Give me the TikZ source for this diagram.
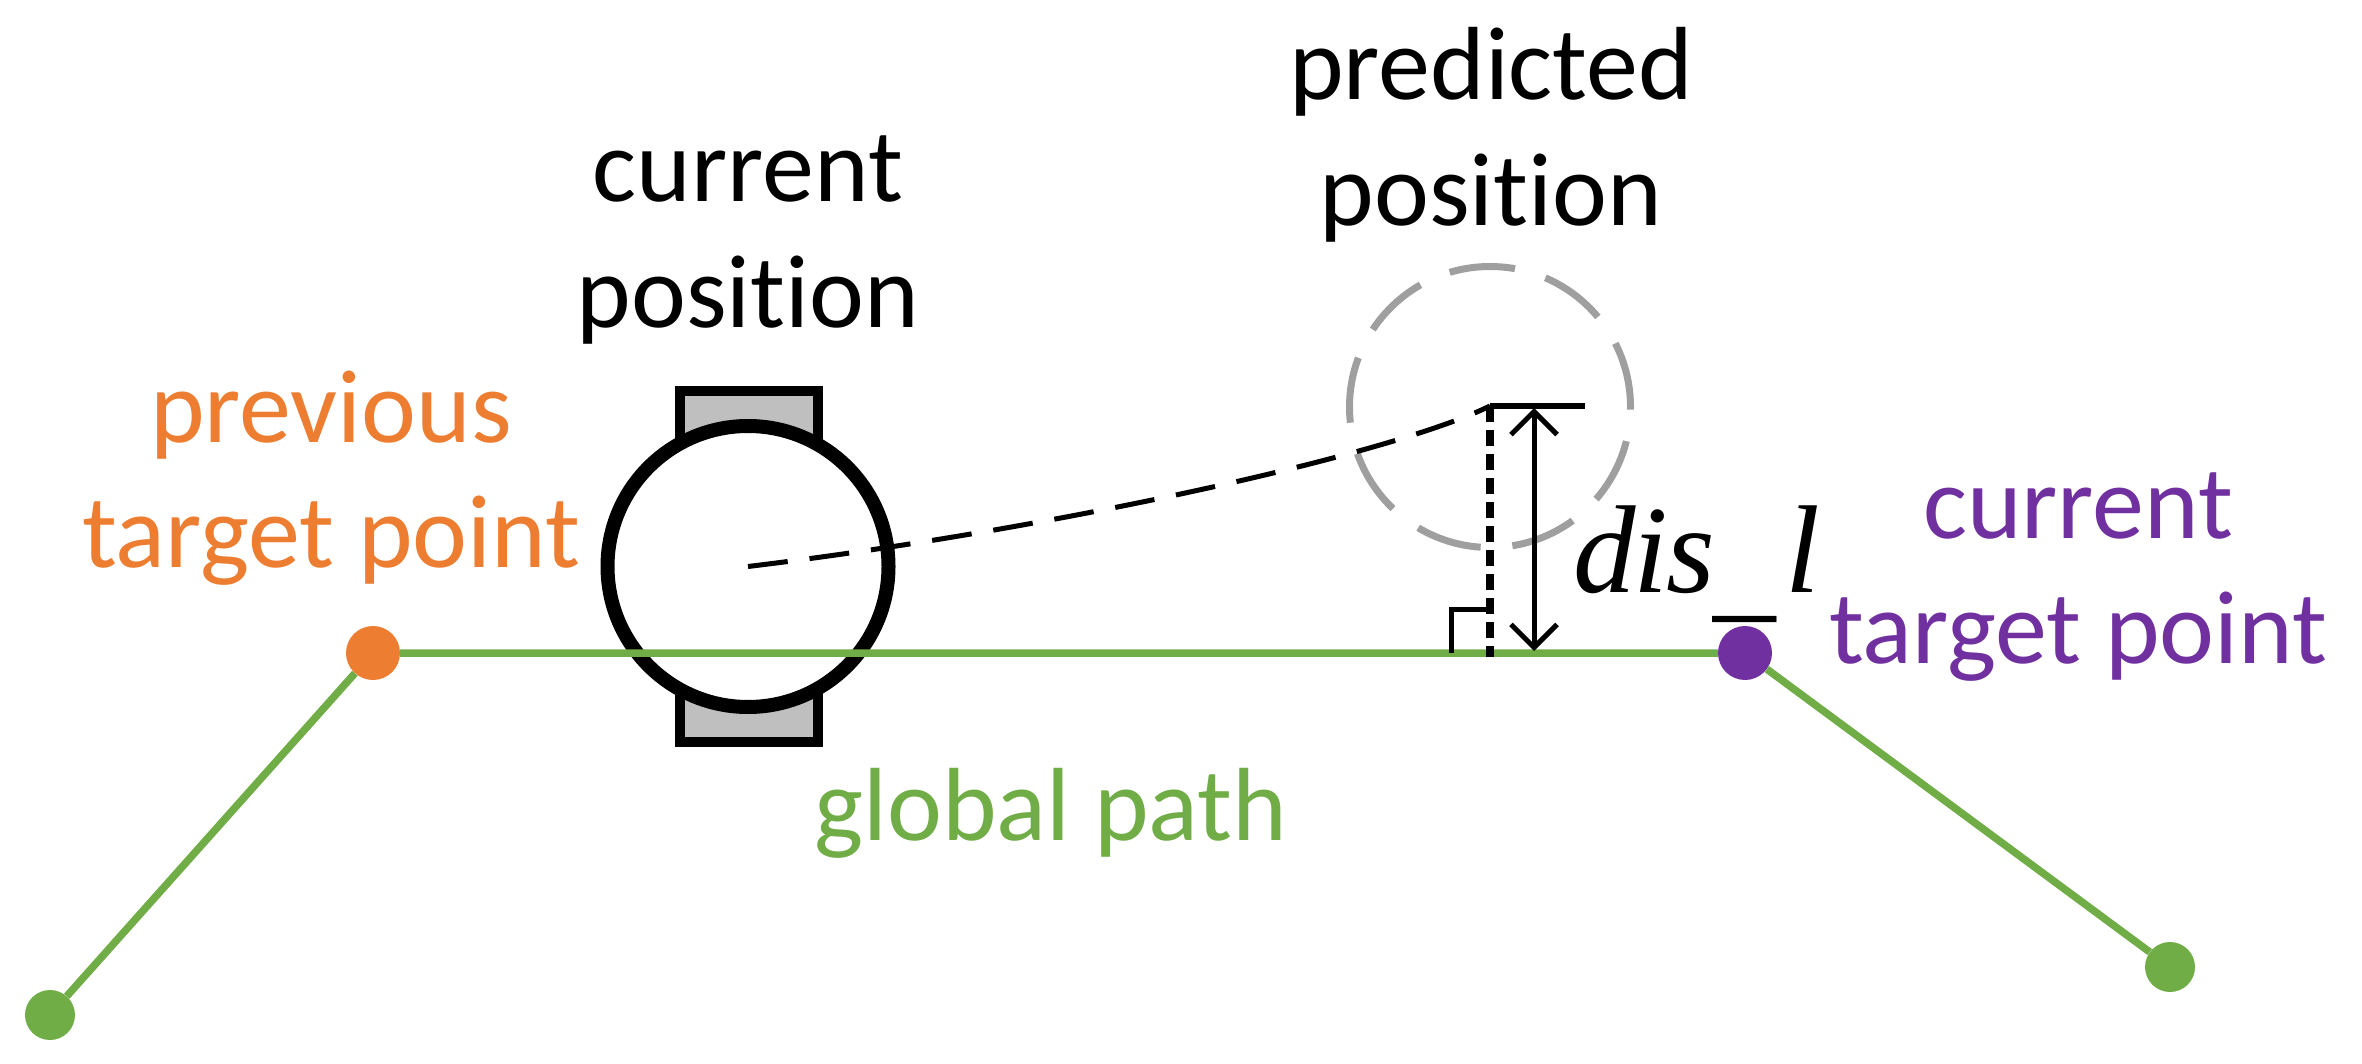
\documentclass[tikz,border=0pt]{standalone}
\usepackage{fontspec}
\setmainfont[Ligatures=NoCommon]{Carlito}
\newfontfamily\timesfont{Liberation Serif}
\usetikzlibrary{arrows.meta}
\definecolor{pgreen}{HTML}{70AD47}
\definecolor{porange}{HTML}{ED7D31}
\definecolor{ppurple}{HTML}{7030A0}
\definecolor{pgray}{HTML}{9F9F9F}
\definecolor{pfill}{HTML}{BFBFBF}
\tikzset{
  label text/.style={inner sep=0pt, align=center, font=\fontsize{104}{125.5}\selectfont},
  dot/.style={circle, inner sep=0pt, minimum size=54pt},
  wheel/.style={draw=black, fill=pfill, line width=10pt, inner sep=0pt, minimum width=138pt, minimum height=70pt},
  path seg/.style={draw=pgreen, line width=7.5pt},
}
\begin{document}
\begin{tikzpicture}[x=1pt,y=-1pt]
\useasboundingbox (0,0) rectangle (2362,1064);
% wheels and body
\node[wheel] (wt) at (748.5,426.5) {};
\node[wheel] (wb) at (748.5,707) {};
\node[circle, draw=black, fill=white, line width=14pt, inner sep=0pt, minimum size=281pt] (body) at (748,566.5) {};
% points
\node[dot, fill=porange] (prev) at (373,653) {};
\node[dot, fill=ppurple] (curr) at (1745,653) {};
\node[dot, fill=pgreen, minimum size=50pt] (start) at (50,1015) {};
\node[dot, fill=pgreen, minimum size=50pt] (end) at (2170,967) {};
\path[path seg] (start) -- (prev) -- (curr) -- (end);
% predicted position
\node[circle, draw=pgray, line width=7pt, dash pattern=on 66pt off 31.8pt, inner sep=0pt, minimum size=281pt] (pred) at (1490,407) {};
\coordinate (centre) at (748,566.5);
\coordinate (tip) at (1490,406);
\coordinate (tipr) at (1585,406);
\coordinate (foot) at (1490,657);
\coordinate (au) at (1534,408);
\coordinate (ad) at (1534,651);
\coordinate (ra) at (1451,653);
\coordinate (rb) at (1451,609);
\coordinate (rc) at (1490,609);
\draw[line width=5pt, dash pattern=on 40pt off 22pt] (centre) .. controls (1050,530) and (1390,455) .. (tip);
\draw[line width=5.5pt] (tip) -- (tipr);
\draw[line width=7.5pt, dash pattern=on 16pt off 8pt] (tip) -- (foot);
\draw[line width=5pt] (ra) -- (rb) -- (rc);
\draw[line width=5pt, {Straight Barb[length=23pt,width=46pt,line width=5pt]}-{Straight Barb[length=23pt,width=46pt,line width=5pt]}] (au) -- (ad);
% labels
\node[label text] (lcur) at (748,240) {current\\position};
\node[label text] (lpred) at (1491,135) {predicted\\position};
\node[label text, text=porange] (lprev) at (331,478) {previous\\target point};
\node[label text, text=ppurple] (lcurr) at (2078,577) {current\\target point};
\node[label text, text=pgreen, anchor=base] (lglob) at (1051,840) {global path};
\node[inner sep=0pt, anchor=base west, font=\timesfont\itshape\fontsize{125}{125}\selectfont] (ldis) at (1573,592) {d\kern-2pt i\kern-2pt s\kern-2pt\raisebox{-14pt}{\_}\kern10pt l};
\end{tikzpicture}
\end{document}
